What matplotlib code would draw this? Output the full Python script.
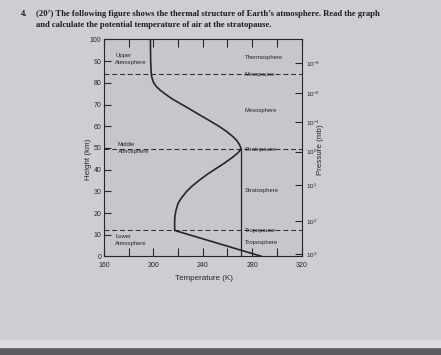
"""Thermal structure of Earth's atmosphere - textbook figure"""
import matplotlib
matplotlib.use("Agg")
import matplotlib.pyplot as plt
from matplotlib.patches import Rectangle

plt.rcParams['font.family'] = ['Liberation Sans', 'DejaVu Sans']
plt.rcParams['mathtext.default'] = 'regular'

# temperature profile (height km -> temperature K)
heights = [0, 12, 15, 18.3, 21, 24.5, 27, 29.9, 32.5, 35.3, 38, 40.6, 43,
           45.3, 47.5, 49.5, 51.4, 53.5, 55.2, 57.5, 59.8, 62.5, 65.2, 68,
           70.6, 72.5, 74.4, 76.5, 78.2, 80, 81.3, 83, 85, 90, 100]
temps = [288, 217.3, 217.2, 217.4, 218.2, 220, 222.8, 226.8, 231.5, 237.6,
         244, 251, 257.5, 263.2, 268, 271.2, 269.9, 267.5, 264.5, 259.5,
         253.7, 245.8, 237.6, 229.3, 221.4, 215.6, 210.7, 205.8, 202.6,
         200.3, 199.4, 198.6, 198.2, 197.8, 197.6]

stratopause_temp = 271.2
pause_names = ['Tropopause', 'Stratopause', 'Mesopause']
pause_heights = [12, 49.5, 84]
layer_names = ['Troposphere', 'Stratosphere', 'Mesosphere', 'Thermosphere']
layer_heights = [6.5, 30.6, 67.5, 91.6]
region_names = ['Lower\nAtmosphere', 'Middle\nAtmosphere', 'Upper\nAtmosphere']
region_heights = [7.6, 49.8, 90.8]
region_temps = [169, 171, 169]

pressure_exps = [3, 2, 1, 0, -1, -2, -3]
pressure_heights = [1.2, 16.4, 32.8, 48.3, 62.0, 75.2, 89.0]

x_ticks = [160, 180, 200, 220, 240, 260, 280, 300, 320]
x_labels = [160, 200, 240, 280, 320]

INK = '#262628'
fig = plt.figure(figsize=(4.41, 3.55), dpi=100, facecolor='#cecdd2')
fig.patches.append(Rectangle((0, 0), 1, 0.022, transform=fig.transFigure,
                             color='#5b5a60', zorder=0))
fig.patches.append(Rectangle((0, 0.022), 1, 0.02, transform=fig.transFigure,
                             color='#dedde1', zorder=0))

ax = fig.add_axes([0.2358, 0.2775, 0.4479, 0.6113], facecolor='#c7c6cb')
ax.plot(temps, heights, color=INK, lw=1.2, solid_capstyle='butt')
ax.plot([stratopause_temp, stratopause_temp], [0, pause_heights[1]],
        color=INK, lw=0.9)
for h in pause_heights:
    ax.axhline(h, color=INK, lw=0.7, ls=(0, (5, 3)))

for name, h in zip(pause_names + layer_names, pause_heights + layer_heights):
    ax.text(274, h, name, fontsize=4.2, color=INK, ha='left', va='center')
for name, h, t in zip(region_names, region_heights, region_temps):
    ax.text(t, h, name, fontsize=4.2, color=INK, ha='left', va='center',
            linespacing=1.5)

ax.set_xlim(160, 320)
ax.set_ylim(0, 100)
ax.set_xticks(x_ticks)
ax.set_xticklabels([str(v) if v in x_labels else '' for v in x_ticks])
ax.tick_params(axis='x', direction='in', length=6, width=0.8, color=INK,
               top=True, pad=4, labelsize=5, labelcolor=INK)
ax.set_yticks(range(0, 101, 10))
ax.tick_params(axis='y', direction='in', length=5, width=0.8, color=INK,
               labelsize=5, labelcolor=INK, pad=2, right=False)
for s in ax.spines.values():
    s.set_color(INK)
    s.set_linewidth(0.8)

ax2 = ax.twinx()
ax2.set_ylim(0, 100)
ax2.set_yticks(pressure_heights)
ax2.set_yticklabels([f'$10^{{{e}}}$' for e in pressure_exps])
ax2.tick_params(axis='y', direction='in', length=5, width=0.8, color=INK,
                labelsize=4.6, labelcolor=INK, pad=3)
for s in ax2.spines.values():
    s.set_visible(False)

fig.text(88 / 441, 1 - 159 / 355, 'Height (km)', rotation=90, fontsize=5.8,
         color=INK, ha='center', va='center')
fig.text(321 / 441, 1 - 150 / 355, 'Pressure (mb)', rotation=90,
         fontsize=5.8, color=INK, ha='center', va='center')
fig.text(204 / 441, 1 - 278 / 355, 'Temperature (K)', fontsize=5.8,
         color=INK, ha='center', va='center')

title_kw = dict(family='Liberation Serif', weight='bold', fontsize=6.2,
                color='#1e1e22', va='center', ha='left')
fig.text(21 / 441, 1 - 14 / 355, '4.', **title_kw)
fig.text(36 / 441, 1 - 14 / 355,
         '(20’) The following figure shows the thermal structure of '
         'Earth’s atmosphere. Read the graph', **title_kw)
fig.text(36 / 441, 1 - 25 / 355,
         'and calculate the potential temperature of air at the stratopause.',
         **title_kw)

fig.savefig('out.png', dpi=100, facecolor=fig.get_facecolor())
